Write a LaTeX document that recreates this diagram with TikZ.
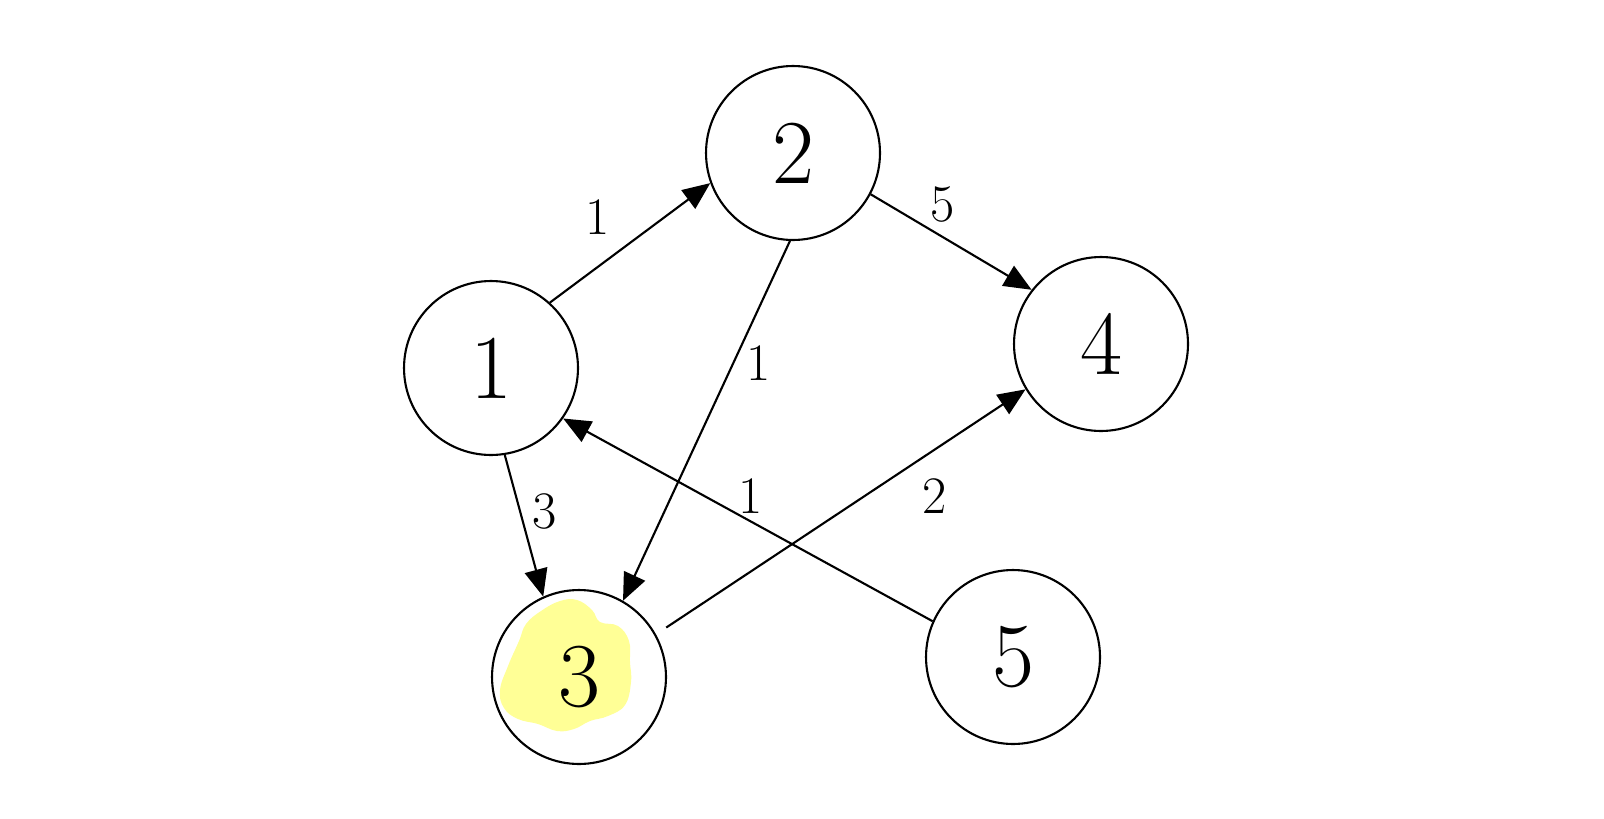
\documentclass[tikz,border=0pt]{standalone}
\usepackage{amsmath,amssymb}
\usepackage{tikz}
\usetikzlibrary{arrows.meta}

\definecolor{marker}{RGB}{255,255,150}

\begin{document}
\begin{tikzpicture}[x=0.02cm, y=-0.02cm, line width=1.2pt,
	vertex/.style={circle, draw, minimum size=3.48cm, inner sep=0pt, font=\fontsize{52}{56}\selectfont},
	wt/.style={font=\fontsize{30}{34}\selectfont},
	edge/.style={-{Triangle[length=5.5mm,width=4.6mm]}}]
	\useasboundingbox (0,0) rectangle (1604,818);
	% highlight behind vertex 3
	\fill[marker] plot[smooth cycle, tension=0.7] coordinates {
		(560,601) (577,600) (592,610) (600,622) (618,626) (629,641) (630,662)
		(631,682) (625,705) (608,716) (590,721) (574,729) (557,731) (538,724)
		(518,719) (504,708) (500,690) (508,666) (519,641) (526,624) (541,611)};
	\node[vertex] (v1) at (491,368) {1};
	\node[vertex] (v2) at (793,153) {2};
	\node[vertex] (v3) at (579,677) {3};
	\node[vertex] (v4) at (1101,344) {4};
	\node[vertex] (v5) at (1013,657) {5};
	\draw[edge] (v1.48) -- (v2.200);
	\draw[edge] (v2.-28) -- (v4.142);
	\draw[edge] (v2.-92) -- (v3.60);
	\draw[edge] (v1.-81) -- (v3.114);
	\draw[edge, shorten <=7pt] (v3.29) -- (v4.211);
	\draw[edge] (v5.156) -- (v1.-35);
	\node[wt] (w12) at (598,217) {1};
	\node[wt] (w24) at (943,205) {5};
	\node[wt] (w23) at (759,363) {1};
	\node[wt] (w13) at (545,511) {3};
	\node[wt] (w51) at (751,496) {1};
	\node[wt] (w34) at (935,496) {2};
\end{tikzpicture}
\end{document}
